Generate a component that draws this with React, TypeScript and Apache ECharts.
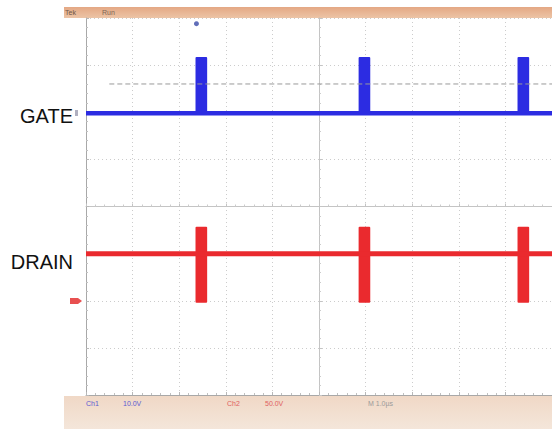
import React, { useEffect, useRef } from "react";
import * as echarts from "echarts";

// Time axis in µs (1 µs/div), vertical axis in divisions
const pulseStarts = [-2.65, 0.85, 4.26];
const pulseWidth = 0.25;
const gateLow = 1.98;
const gateHigh = 3.17;
const drainBase = -1.0;
const drainSpikeTop = -0.43;
const drainSpikeBottom = -2.04;
const triggerLevel = 2.6;
const triggerStart = -4.5;
const triggerMark = [-2.63, 3.88];
const bottomLabels = [
  { text: "Ch1", color: "#5a5ad2", x: 86 },
  { text: "10.0V", color: "#5a5ad2", x: 123 },
  { text: "Ch2", color: "#e06060", x: 227 },
  { text: "50.0V", color: "#e06060", x: 265 },
  { text: "M 1.0\u00b5s", color: "#9a9a9a", x: 368 },
];

export default function App() {
  const ref = useRef<HTMLDivElement>(null);
  useEffect(() => {
    const chart = echarts.init(ref.current!, null, { renderer: "svg" });
    const blue = "#2c2ce2";
    const red = "#ea2a2e";
    const rectItem = (color: string) => (params: any, api: any) => {
      const p0 = api.coord([api.value(0), api.value(3)]);
      const p1 = api.coord([api.value(1), api.value(2)]);
      return {
        type: "rect",
        shape: { x: p0[0], y: p0[1], width: p1[0] - p0[0], height: p1[1] - p0[1], r: 1 },
        style: { fill: color },
      };
    };
    const gateRects = pulseStarts.map((s) => [s, s + pulseWidth, gateLow, gateHigh]);
    const drainRects = pulseStarts.map((s) => [s, s + pulseWidth, drainSpikeBottom, drainSpikeTop]);
    const gridLine = { show: true, lineStyle: { color: "#cccccc", type: [1, 3] as any, width: 1 } };
    chart.setOption({
      animation: false,
      backgroundColor: "#ffffff",
      grid: { left: 86, top: 18, right: -6, bottom: 34, containLabel: false },
      xAxis: [
        {
          type: "value", min: -5, max: 5, interval: 1, position: "bottom",
          axisLabel: { show: false },
          axisLine: { show: true, onZero: false, lineStyle: { color: "#a8a8a8" } },
          axisTick: { show: true, inside: true, length: 3, lineStyle: { color: "#b8b8b8" } },
          minorTick: { show: true, splitNumber: 5, length: 2, lineStyle: { color: "#c0c0c0" } },
          splitLine: gridLine,
        },
        {
          type: "value", min: -5, max: 5, interval: 1, position: "bottom",
          axisLabel: { show: false },
          axisLine: { show: true, onZero: true, lineStyle: { color: "#c4c4c4" } },
          axisTick: { show: true, inside: true, length: 3, lineStyle: { color: "#c4c4c4" } },
          minorTick: { show: true, splitNumber: 5, length: 2, lineStyle: { color: "#cccccc" } },
          splitLine: { show: false },
        },
      ],
      yAxis: [
        {
          type: "value", min: -4, max: 4, interval: 1, position: "left",
          axisLabel: { show: false },
          axisLine: { show: true, onZero: false, lineStyle: { color: "#a8a8a8" } },
          axisTick: { show: true, inside: true, length: 3, lineStyle: { color: "#b8b8b8" } },
          minorTick: { show: true, splitNumber: 5, length: 2, lineStyle: { color: "#c0c0c0" } },
          splitLine: gridLine,
        },
        {
          type: "value", min: -4, max: 4, interval: 1, position: "left",
          axisLabel: { show: false },
          axisLine: { show: true, onZero: true, lineStyle: { color: "#c4c4c4" } },
          axisTick: { show: true, inside: true, length: 3, lineStyle: { color: "#c4c4c4" } },
          minorTick: { show: true, splitNumber: 5, length: 2, lineStyle: { color: "#cccccc" } },
          splitLine: { show: false },
        },
      ],
      series: [
        {
          type: "line", name: "trigger", symbol: "none", silent: true,
          data: [[triggerStart, triggerLevel], [5, triggerLevel]],
          lineStyle: { color: "#9a9a9a", width: 1, type: [5, 3] as any },
        },
        {
          type: "line", name: "GATE", symbol: "none",
          data: [[-5, gateLow], [5, gateLow]],
          lineStyle: { color: blue, width: 4.5 },
        },
        { type: "custom", name: "gatePulses", renderItem: rectItem(blue), data: gateRects },
        {
          type: "line", name: "DRAIN", symbol: "none",
          data: [[-5, drainBase], [5, drainBase]],
          lineStyle: { color: red, width: 5 },
        },
        { type: "custom", name: "drainPulses", renderItem: rectItem(red), data: drainRects },
        {
          type: "scatter", name: "trig", symbol: "circle", symbolSize: 5,
          data: [triggerMark], itemStyle: { color: "#3a4aa8" },
        },
      ],
      graphic: [
        {
          type: "rect", shape: { x: 64, y: 7, width: 488, height: 11 },
          style: {
            fill: new echarts.graphic.LinearGradient(0, 0, 0, 1, [
              { offset: 0, color: "#e4a884" },
              { offset: 1, color: "#ecc4a6" },
            ]),
          },
        },
        { type: "text", x: 65, y: 9, style: { text: "Tek", fill: "#6e5646", fontSize: 7, fontFamily: "Liberation Sans" } },
        { type: "text", x: 102, y: 9, style: { text: "Run", fill: "#7e6656", fontSize: 7, fontFamily: "Liberation Sans" } },
        {
          type: "rect", shape: { x: 64, y: 396, width: 488, height: 33 },
          style: {
            fill: new echarts.graphic.LinearGradient(0, 0, 0, 1, [
              { offset: 0, color: "#f0d8c6" },
              { offset: 1, color: "#f4e6da" },
            ]),
          },
        },
        ...bottomLabels.map((b) => ({
          type: "text", x: b.x, y: 400,
          style: { text: b.text, fill: b.color, fontSize: 7, fontFamily: "Liberation Sans" },
        })),
        {
          type: "text", x: 73, y: 115.5,
          style: { text: "GATE", fill: "#111", fontSize: 20, fontFamily: "Liberation Sans", align: "right", verticalAlign: "middle" },
        },
        {
          type: "text", x: 73, y: 262,
          style: { text: "DRAIN", fill: "#111", fontSize: 20, fontFamily: "Liberation Sans", align: "right", verticalAlign: "middle" },
        },
        { type: "rect", shape: { x: 75, y: 110, width: 3, height: 6 }, style: { fill: "#b0b0c0" } },
        { type: "polygon", shape: { points: [[70, 298], [78, 298], [82, 301], [78, 304], [70, 304]] }, style: { fill: "#e85050" } },
      ],
    });
    return () => chart.dispose();
  }, []);
  return <div ref={ref} style={{ position: "fixed", left: 0, top: 0, width: 552, height: 429, background: "#fff" }} />;
}
